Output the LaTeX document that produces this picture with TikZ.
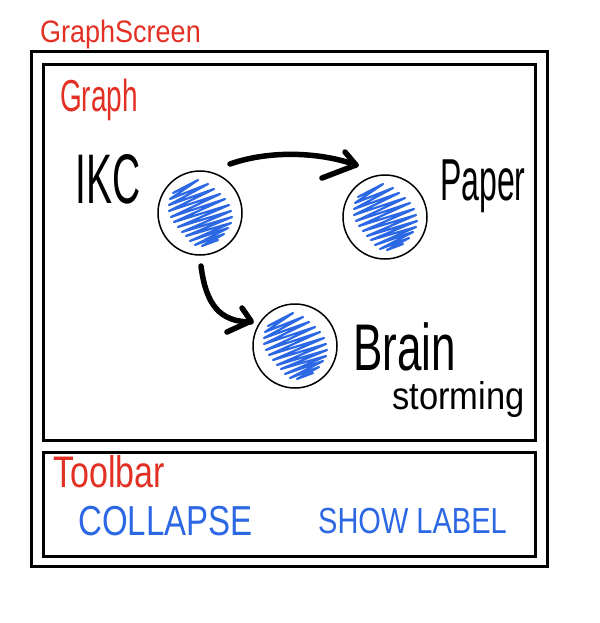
\documentclass[tikz,border=0pt]{standalone}
\usepackage{fontspec}
\setmainfont{Liberation Sans}
\definecolor{sketchred}{RGB}{226,48,36}
\definecolor{sketchblue}{RGB}{44,104,228}
\tikzset{
  frame/.style={draw, line width=3pt, inner sep=0pt, rectangle},
  lbl/.style={inner sep=0pt, anchor=base west},
  nodecircle/.style={circle, draw, line width=1.5pt, minimum size=84pt, inner sep=0pt},
  arrowline/.style={line width=5.5pt, line cap=round, line join=round},
  scribble/.pic={
    \draw[sketchblue, line width=2.2pt, line join=round, line cap=round]
      (-27,-20) -- (-2,-33) -- (-30,-14) -- (8,-29) -- (-31,-8) -- (14,-24)
      -- (-31,-2) -- (20,-19) -- (-29,4) -- (25,-14) -- (-26,9) -- (29,-8)
      -- (-22,14) -- (31,-2) -- (-18,19) -- (32,4) -- (-14,23) -- (31,10)
      -- (-10,28) -- (28,15) -- (-5,32) -- (24,21) -- (2,33) -- (18,27);
  }
}
\begin{document}
\begin{tikzpicture}[x=1pt, y=-1pt]
\useasboundingbox (0,0) rectangle (599,623);
% frames
\node[frame, minimum width=516pt, minimum height=514pt] (screen) at (289.5,309) {};
\node[frame, minimum width=492pt, minimum height=376pt] (graph) at (289,252.5) {};
\node[frame, minimum width=492pt, minimum height=104pt] (toolbar) at (289,504) {};
% section labels
\node[lbl, text=sketchred] (lscreen) at (40,43) {\fontsize{27}{27}\selectfont\scalebox{1}[1.15]{GraphScreen}};
\node[lbl, text=sketchred] (lgraph) at (60,112) {\fontsize{28}{28}\selectfont\scalebox{1}[1.6]{Graph}};
\node[lbl, text=sketchred] (ltoolbar) at (53,487) {\fontsize{34}{34}\selectfont\scalebox{1}[1.3]{Toolbar}};
% toolbar buttons
\node[lbl, text=sketchblue] (collapse) at (78,535) {\fontsize{33}{33}\selectfont\scalebox{1}[1.27]{COLLAPSE}};
\node[lbl, text=sketchblue] (showlabel) at (318,533) {\fontsize{29}{29}\selectfont\scalebox{1}[1.25]{SHOW LABEL}};
% graph nodes
\node[nodecircle] (ikc) at (200,213) {};
\node[nodecircle] (paper) at (385,217) {};
\node[nodecircle] (brain) at (295,346) {};
\pic at (ikc) {scribble};
\pic at (paper) {scribble};
\pic at (brain) {scribble};
% node labels
\node[lbl] (likc) at (75,203) {\fontsize{39}{39}\selectfont\scalebox{1}[1.8]{IKC}};
\node[lbl] (lpaper) at (440,200) {\fontsize{32}{32}\selectfont\scalebox{1}[1.85]{Paper}};
\node[lbl] (lbrain) at (353,370) {\fontsize{44}{44}\selectfont\scalebox{1}[1.5]{Brain}};
\node[lbl] (lstorm) at (392,409) {\fontsize{34.5}{34.5}\selectfont\scalebox{1}[1.12]{storming}};
% connectors
\draw[arrowline] ([shift={(30,-49)}]ikc.center) .. controls ([shift={(70,-63)}]ikc.center) and ([shift={(-65,-65)}]paper.center) .. ([shift={(-29,-52)}]paper.center);
\draw[arrowline] ([shift={(-40,-65)}]paper.center) -- ([shift={(-29,-52)}]paper.center) -- ([shift={(-63,-39)}]paper.center);
\draw[arrowline] ([shift={(1,53)}]ikc.center) .. controls ([shift={(6,92)}]ikc.center) and ([shift={(-75,-24)}]brain.center) .. ([shift={(-44,-24)}]brain.center);
\draw[arrowline] ([shift={(-53,-38)}]brain.center) -- ([shift={(-44,-25)}]brain.center) -- ([shift={(-68,-14)}]brain.center);
\end{tikzpicture}
\end{document}
